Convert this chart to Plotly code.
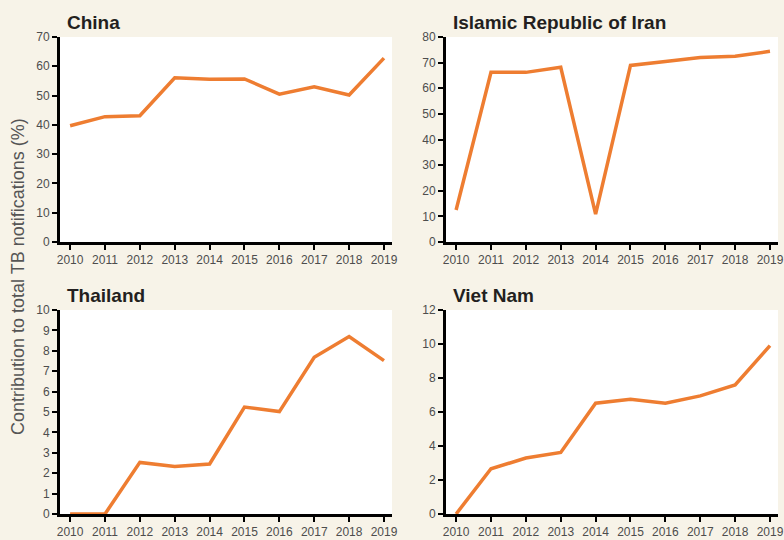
import plotly.graph_objects as go

# Years of notification data
years = [2010, 2011, 2012, 2013, 2014, 2015, 2016, 2017, 2018, 2019]

# Contribution to total TB notifications (%), per country
china = [39.7, 42.8, 43.1, 56.1, 55.6, 55.7, 50.5, 53.0, 50.2, 62.8]
iran = [12.5, 66.2, 66.2, 68.2, 10.9, 68.9, 70.4, 72.0, 72.5, 74.4]
thailand = [0.0, 0.0, 2.53, 2.33, 2.45, 5.24, 5.02, 7.68, 8.70, 7.52]
viet_nam = [0.0, 2.66, 3.29, 3.62, 6.52, 6.75, 6.52, 6.95, 7.59, 9.90]

panel_titles = ["China", "Islamic Republic of Iran", "Thailand", "Viet Nam"]
y_maxes = [70, 80, 10, 12]
y_steps = [10, 10, 1, 2]
y_title = "Contribution to total TB notifications (%)"

W, H = 784, 540
ORANGE = "#ee7d31"
CREAM = "#f7f3e8"
NARROW = "Liberation Sans Narrow, Arial Narrow, Liberation Sans, Arial, sans-serif"

# Panel boxes in pixels: left, right, top, bottom
boxes = [
    (60, 392, 37, 242),
    (446, 778, 37, 242),
    (60, 392, 310, 514),
    (446, 778, 310, 514),
]

series = [china, iran, thailand, viet_nam]

fig = go.Figure()
layout = dict(
    template="none",
    width=W, height=H,
    margin=dict(l=0, r=0, t=0, b=0, pad=0),
    paper_bgcolor=CREAM,
    plot_bgcolor="white",
    showlegend=False,
    annotations=[],
)

for i, (vals, box, title, ymax, ystep) in enumerate(
        zip(series, boxes, panel_titles, y_maxes, y_steps)):
    n = "" if i == 0 else str(i + 1)
    left, right, top, bottom = box
    fig.add_trace(go.Scatter(
        x=years, y=vals, mode="lines",
        line=dict(color=ORANGE, width=3.5),
        xaxis="x" + n, yaxis="y" + n,
        cliponaxis=False, hoverinfo="x+y",
    ))
    axis_common = dict(
        automargin=False,
        showgrid=False, zeroline=False,
        showline=True, linecolor="black", linewidth=3,
        ticks="outside", ticklen=5, tickwidth=2, tickcolor="black",
        tickfont=dict(family=NARROW, size=12, color="#4d4d4d"),
        ticklabeloverflow="allow",
        fixedrange=True,
    )
    layout["xaxis" + n] = dict(
        axis_common,
        domain=[left / W, right / W],
        range=[2009.71, 2019.23],
        tickmode="array", tickvals=years, ticktext=[str(y) for y in years],
        anchor="y" + n,
    )
    layout["yaxis" + n] = dict(
        axis_common,
        domain=[1 - bottom / H, 1 - top / H],
        range=[0, ymax],
        tick0=0, dtick=ystep,
        anchor="x" + n,
    )
    layout["annotations"].append(dict(
        text="<b>" + title + "</b>",
        xref="paper", yref="paper",
        x=(left + 5) / W, y=1 - (top - 15) / H,
        xanchor="left", yanchor="middle", showarrow=False,
        font=dict(family="Liberation Sans, Arial, sans-serif", size=19, color="#231f20"),
    ))

layout["annotations"].append(dict(
    text=y_title, textangle=-90,
    xref="paper", yref="paper",
    x=18 / W, y=1 - 277 / H,
    xanchor="center", yanchor="middle", showarrow=False,
    font=dict(family=NARROW, size=18, color="#555555"),
))

fig.update_layout(**layout)
fig.write_html("out.html")
